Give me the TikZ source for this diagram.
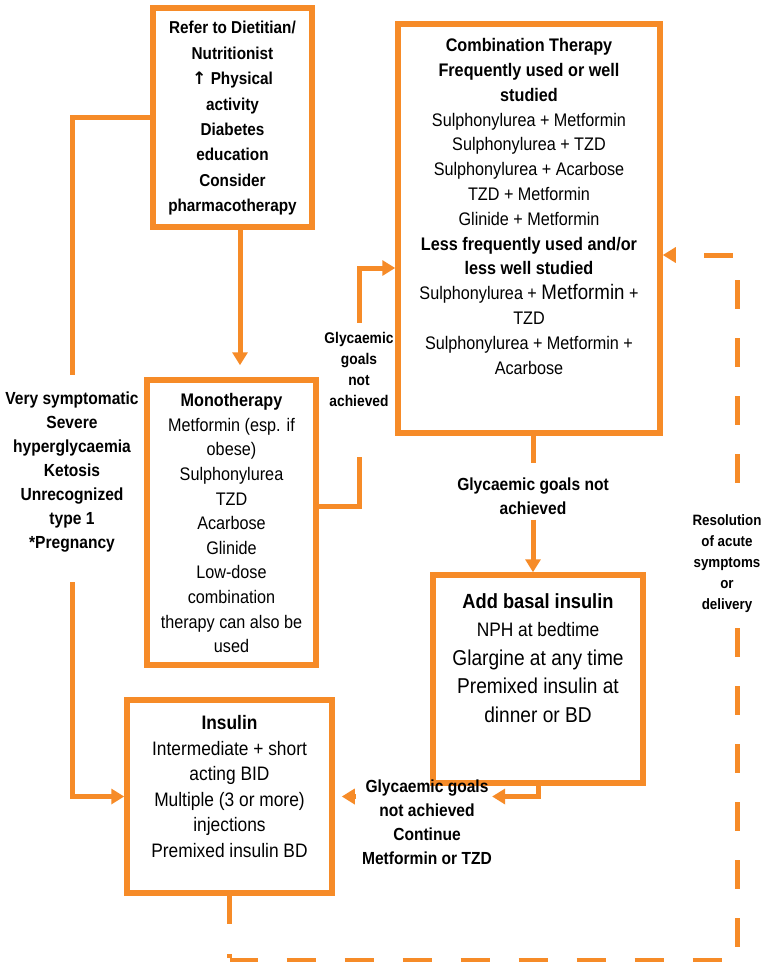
\documentclass[tikz,border=0pt]{standalone}
\usepackage{fontspec}
\setmainfont{Liberation Sans}[FakeStretch=0.89]
\newfontfamily\arrowfont{DejaVu Sans}
\usetikzlibrary{arrows.meta,positioning}
\definecolor{flowor}{RGB}{246,139,40}

\begin{document}
\begin{tikzpicture}[
    x=1pt, y=-1pt,
    >={Triangle[length=13pt,width=15pt]},   % arrow tip style
    box/.style={draw=flowor, line width=5.5pt},
    flow/.style={draw=flowor, line width=5pt},
    loopline/.style={flow, dash pattern=on 29pt off 29pt, dash phase=1pt},
    boxtext/.style={align=center, inner sep=0pt},
    note/.style={align=center, inner sep=0pt, font=\bfseries\fontsize{17.5pt}{24pt}\selectfont}]
    \useasboundingbox (0,0) rectangle (781,962);

    % Boxes
    \node[box, minimum width=159pt, minimum height=219pt] (refer) at (232.5,117.5) {};
    \node[box, minimum width=262pt, minimum height=409pt] (combo) at (529,228.5) {};
    \node[box, minimum width=169pt, minimum height=285pt] (mono) at (231.5,522.5) {};
    \node[box, minimum width=210pt, minimum height=208pt] (basal) at (538,679) {};
    \node[box, minimum width=205pt, minimum height=193pt] (insulin) at (229.5,796.5) {};

    % Box texts
    \node[boxtext, below=16pt of refer.north, font=\bfseries\fontsize{17.2pt}{25.4pt}\selectfont] (refertext)
        {Refer to Dietitian/\\Nutritionist\\{\arrowfont ↑} Physical\\activity\\Diabetes\\education\\Consider\\pharmacotherapy};
    \node[boxtext, below=17pt of combo.north, font=\fontsize{18.2pt}{24.8pt}\selectfont] (combotext)
        {\textbf{Combination Therapy}\\\textbf{Frequently used or well}\\\textbf{studied}\\
         Sulphonylurea + Metformin\\Sulphonylurea + TZD\\Sulphonylurea + Acarbose\\
         TZD + Metformin\\Glinide + Metformin\\
         \textbf{Less frequently used and/or}\\\textbf{less well studied}\\
         Sulphonylurea + {\fontsize{21pt}{24.8pt}\selectfont Metformin} +\\TZD\\
         Sulphonylurea + Metformin +\\Acarbose};
    \node[boxtext, below=16pt of mono.north, font=\fontsize{18.2pt}{24.6pt}\selectfont] (monotext)
        {\textbf{Monotherapy}\\Metformin (esp. if\\obese)\\Sulphonylurea\\TZD\\Acarbose\\Glinide\\
         Low-dose\\combination\\therapy can also be\\used};
    \node[boxtext, below=21pt of basal.north, font=\fontsize{21.5pt}{28.5pt}\selectfont] (basaltext)
        {\textbf{\fontsize{20.5pt}{28.5pt}\selectfont Add basal insulin}\\
         {\fontsize{19.5pt}{28.5pt}\selectfont NPH at bedtime}\\Glargine at any time\\
         Premixed insulin at\\dinner or BD};
    \node[boxtext, below=18pt of insulin.north, font=\fontsize{19.5pt}{25.6pt}\selectfont] (insulintext)
        {\textbf{Insulin}\\Intermediate + short\\acting BID\\Multiple (3 or more)\\injections\\
         Premixed insulin BD};

    % Labels on the connectors
    \node[note] (sympt) at (72,472)
        {Very symptomatic\\Severe\\hyperglycaemia\\Ketosis\\Unrecognized\\type 1\\*Pregnancy};
    \node[note, font=\bfseries\fontsize{15.5pt}{21pt}\selectfont] (goals1) at (359,369)
        {Glycaemic\\goals\\not\\achieved};
    \node[note] (goals2) at (533,496) {Glycaemic goals not\\achieved};
    \node[note] (goals3) at (427,822)
        {Glycaemic goals\\not achieved\\Continue\\Metformin or TZD};

    \coordinate (loopbl) at (232,960);
    \coordinate (loopbr) at (737,960);
    \coordinate (reentry) at (737,255);

    % Connectors
    \draw[flow] (refer.west) -| ([yshift=17pt]sympt.north);
    \draw[flow,->] ([yshift=-30pt]sympt.south) |- (insulin.west);
    \draw[flow,->,shorten >=12pt] ([xshift=7.5pt]refer.south) -- ([xshift=7.5pt]refer.south |- mono.north);
    \draw[flow] ([yshift=16.5pt]mono.east) -| ([yshift=-51pt]goals1.south);
    \draw[flow,->] ([yshift=9pt]goals1.north) |- ([yshift=-39.5pt]combo.west);
    \draw[flow] (combo.south -| goals2) -- ([yshift=14pt]goals2.north);
    \draw[flow,->] ([yshift=-5pt]goals2.south) -- (goals2 |- basal.north);
    \draw[flow,->] (basal.south) |- (goals3.east |- insulin.east);
    \draw[flow,->,shorten <=6pt,shorten >=7pt] (goals3.west |- insulin.east) -- (insulin.east);

    % Return loop
    \draw[flow] (insulin.south) -- ++(0,28) ++(0,30) -- ++(0,4);
    \draw[loopline,->] (insulin.south |- loopbl) -- (loopbr) -- (reentry) -- (combo.east |- reentry);
    \node[note, fill=white, inner sep=4pt, font=\bfseries\fontsize{15pt}{21pt}\selectfont] (resol) at (727,564)
        {Resolution\\of acute\\symptoms\\or\\delivery};
\end{tikzpicture}
\end{document}
